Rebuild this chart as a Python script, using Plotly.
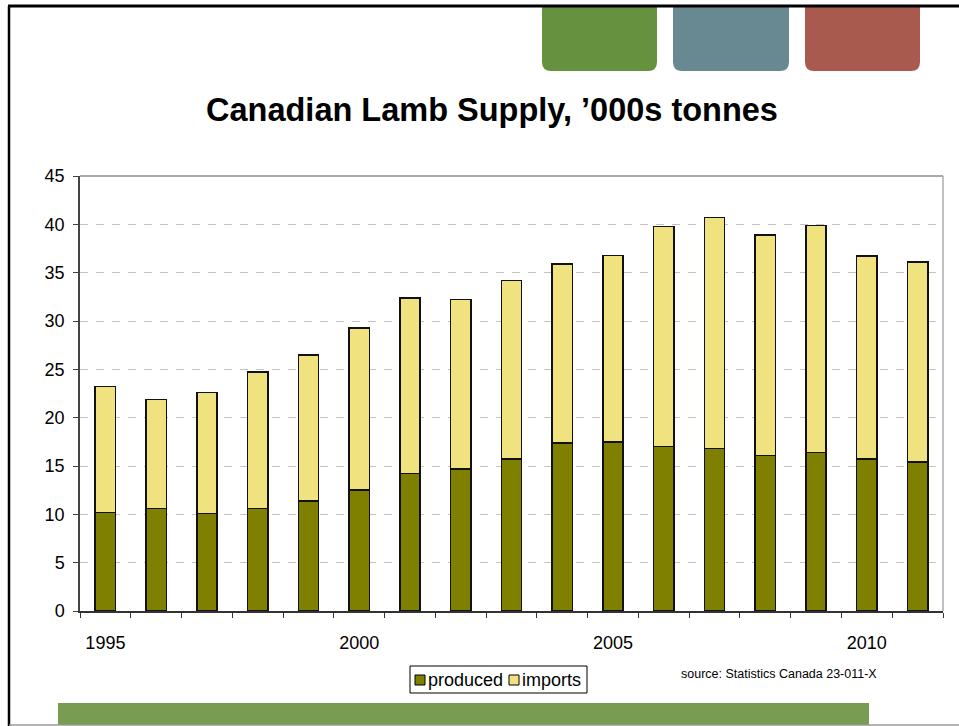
import plotly.graph_objects as go

# Canadian lamb supply, thousand tonnes
years = list(range(1995, 2012))
produced = [10.2, 10.6, 10.1, 10.6, 11.4, 12.5, 14.2, 14.7, 15.7, 17.4, 17.5,
            17.0, 16.8, 16.1, 16.4, 15.7, 15.4]
total_supply = [23.2, 21.9, 22.6, 24.7, 26.5, 29.3, 32.4, 32.2, 34.2, 35.9, 36.8,
                39.8, 40.7, 38.9, 39.9, 36.7, 36.1]
imports = [round(t - p, 1) for t, p in zip(total_supply, produced)]
year_labels = [1995, 2000, 2005, 2010]

series_names = ["produced", "imports"]
series_colors = ["#808000", "#F0E27E"]

W, H = 959, 726
ML, MR, MT, MB = 80, 16, 176, 115
PW, PH = W - ML - MR, H - MT - MB

FONT = "Arial, Liberation Sans, sans-serif"


def px(x):
    return (x - ML) / PW


def py(y):
    return (H - MB - y) / PH


def tab_path(x0, x1, y0, y1, r=9):
    # rectangle with rounded bottom corners, given in page pixels
    pts = [
        f"M {px(x0)},{py(y0)}",
        f"L {px(x1)},{py(y0)}",
        f"L {px(x1)},{py(y1 - r)}",
        f"Q {px(x1)},{py(y1)} {px(x1 - r)},{py(y1)}",
        f"L {px(x0 + r)},{py(y1)}",
        f"Q {px(x0)},{py(y1)} {px(x0)},{py(y1 - r)}",
        "Z",
    ]
    return " ".join(pts)


fig = go.Figure()
for name, vals, col in zip(series_names, [produced, imports], series_colors):
    fig.add_trace(go.Bar(
        x=years, y=vals, name=name, showlegend=False,
        marker=dict(color=col, line=dict(color="#111111", width=1.5)),
    ))

shapes = []
annotations = []
# header tabs
for (x0, x1, col) in [(542, 657, "#66913F"), (673, 789, "#688892"), (805, 920, "#A95A4E")]:
    shapes.append(dict(type="path", xref="paper", yref="paper", path=tab_path(x0, x1, 6, 71),
                       fillcolor=col, line=dict(width=0), layer="below"))
# footer band
shapes.append(dict(type="rect", xref="paper", yref="paper",
                   x0=px(58), x1=px(869), y0=py(703), y1=py(725),
                   fillcolor="#789C52", line=dict(width=0), layer="below"))
# slide frame
shapes.append(dict(type="line", xref="paper", yref="paper",
                   x0=px(8), x1=px(959), y0=py(6), y1=py(6),
                   line=dict(color="#000000", width=3)))
shapes.append(dict(type="line", xref="paper", yref="paper",
                   x0=px(9), x1=px(9), y0=py(6), y1=py(726),
                   line=dict(color="#000000", width=2.5)))
shapes.append(dict(type="line", xref="paper", yref="paper",
                   x0=px(9), x1=px(959), y0=py(725), y1=py(725),
                   line=dict(color="#9A9A9A", width=1.5)))
# plot area frame (top and right)
shapes.append(dict(type="line", xref="x domain", yref="y domain",
                   x0=0, x1=1, y0=1, y1=1, line=dict(color="#8C8C8C", width=1.5)))
shapes.append(dict(type="line", xref="x domain", yref="y domain",
                   x0=1, x1=1, y0=0, y1=1, line=dict(color="#ABABAB", width=1.5)))

# compact legend box below the axis
shapes.append(dict(type="rect", xref="paper", yref="paper",
                   x0=px(410), x1=px(587), y0=py(666), y1=py(693),
                   fillcolor="white", line=dict(color="#000000", width=1)))
for (sx, tx, name, col) in [(415, 427, series_names[0], series_colors[0]),
                            (509, 521, series_names[1], series_colors[1])]:
    shapes.append(dict(type="rect", xref="paper", yref="paper",
                       x0=px(sx), x1=px(sx + 10), y0=py(675), y1=py(685),
                       fillcolor=col, line=dict(color="#000000", width=1)))
    annotations.append(dict(text=name, xref="paper", yref="paper",
                            x=px(tx), xanchor="left", y=py(680), yanchor="middle",
                            showarrow=False, font=dict(size=18, family=FONT),
                            borderpad=0))

annotations.append(dict(text="source: Statistics Canada 23-011-X", xref="paper", yref="paper",
                        x=px(679), xanchor="left", y=py(674), yanchor="middle",
                        showarrow=False, font=dict(size=12.5, family=FONT)))

fig.update_layout(
    width=W, height=H,
    margin=dict(l=ML, r=MR, t=MT, b=MB),
    paper_bgcolor="white", plot_bgcolor="white",
    barmode="stack", bargap=0.6,
    font=dict(family=FONT, color="#000000"),
    title=dict(text="<b>Canadian Lamb Supply, ’000s tonnes</b>",
               font=dict(size=32.5, family=FONT, color="#000000"),
               x=px(492), xref="paper", xanchor="center",
               y=1 - 110 / H, yanchor="middle"),
    showlegend=False,
    shapes=shapes,
    annotations=annotations,
)

fig.update_xaxes(
    range=[1994.5, 2011.5], tickmode="array", tickvals=year_labels,
    ticktext=[str(v) for v in year_labels], ticks="", ticklabelstandoff=15,
    tickfont=dict(size=18), showgrid=False, zeroline=False,
    showline=True, linecolor="#333333", linewidth=1.5,
    minor=dict(ticks="outside", tick0=1994.5, dtick=1, ticklen=5,
               tickcolor="#333333", tickwidth=1.2, showgrid=False),
)
fig.update_yaxes(
    range=[0, 45], dtick=5, ticks="outside", ticklen=5, tickcolor="#444444",
    ticklabelstandoff=5,
    tickfont=dict(size=18), showgrid=True, gridcolor="#C4C4C4", griddash="8px,8px",
    gridwidth=1, zeroline=False, showline=True, linecolor="#444444", linewidth=1.5,
)

fig.write_html("out.html")
